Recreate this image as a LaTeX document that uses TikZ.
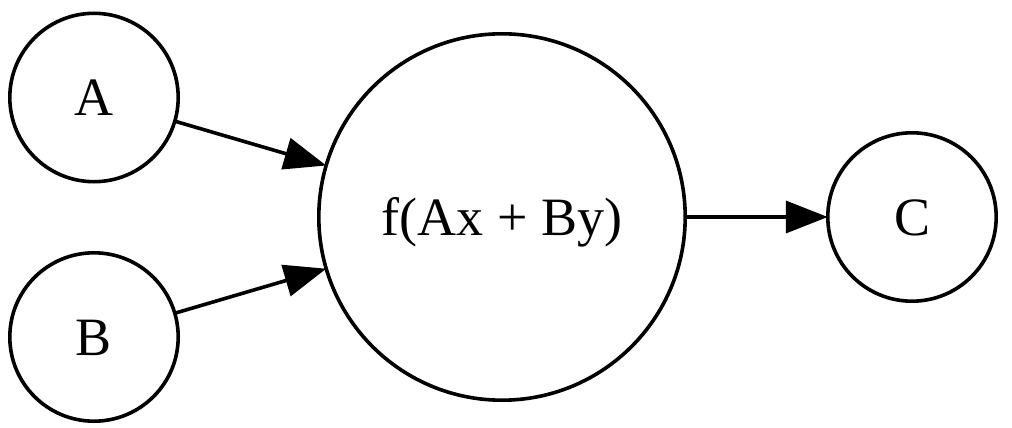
\documentclass[tikz,border=0pt]{standalone}
\usepackage{fontspec}
\setmainfont{Liberation Serif}
\usetikzlibrary{arrows.meta}
\begin{document}
\begin{tikzpicture}[x=1pt,y=1pt,
  nd/.style={circle,draw,line width=3.6pt,inner sep=0pt,outer sep=0pt,
    font=\fontsize{54}{60}\selectfont,text height=36pt,text depth=0pt},
  small/.style={nd,minimum size=168.4pt},
  big/.style={nd,minimum size=366.4pt},
  edge/.style={line width=3.6pt,-{Triangle[length=42pt,width=32pt]}}]
\useasboundingbox (0,0) rectangle (1012,-428);
\node[small] (A) at (94,-97.5) {A};
\node[small] (B) at (94,-337) {B};
\node[big] (F) at (502,-217) {f(Ax + By)};
\node[small] (C) at (912,-217) {C};
\draw[edge] (A) -- (F);
\draw[edge] (B) -- (F);
\draw[edge] (F) -- (C);
\end{tikzpicture}
\end{document}
